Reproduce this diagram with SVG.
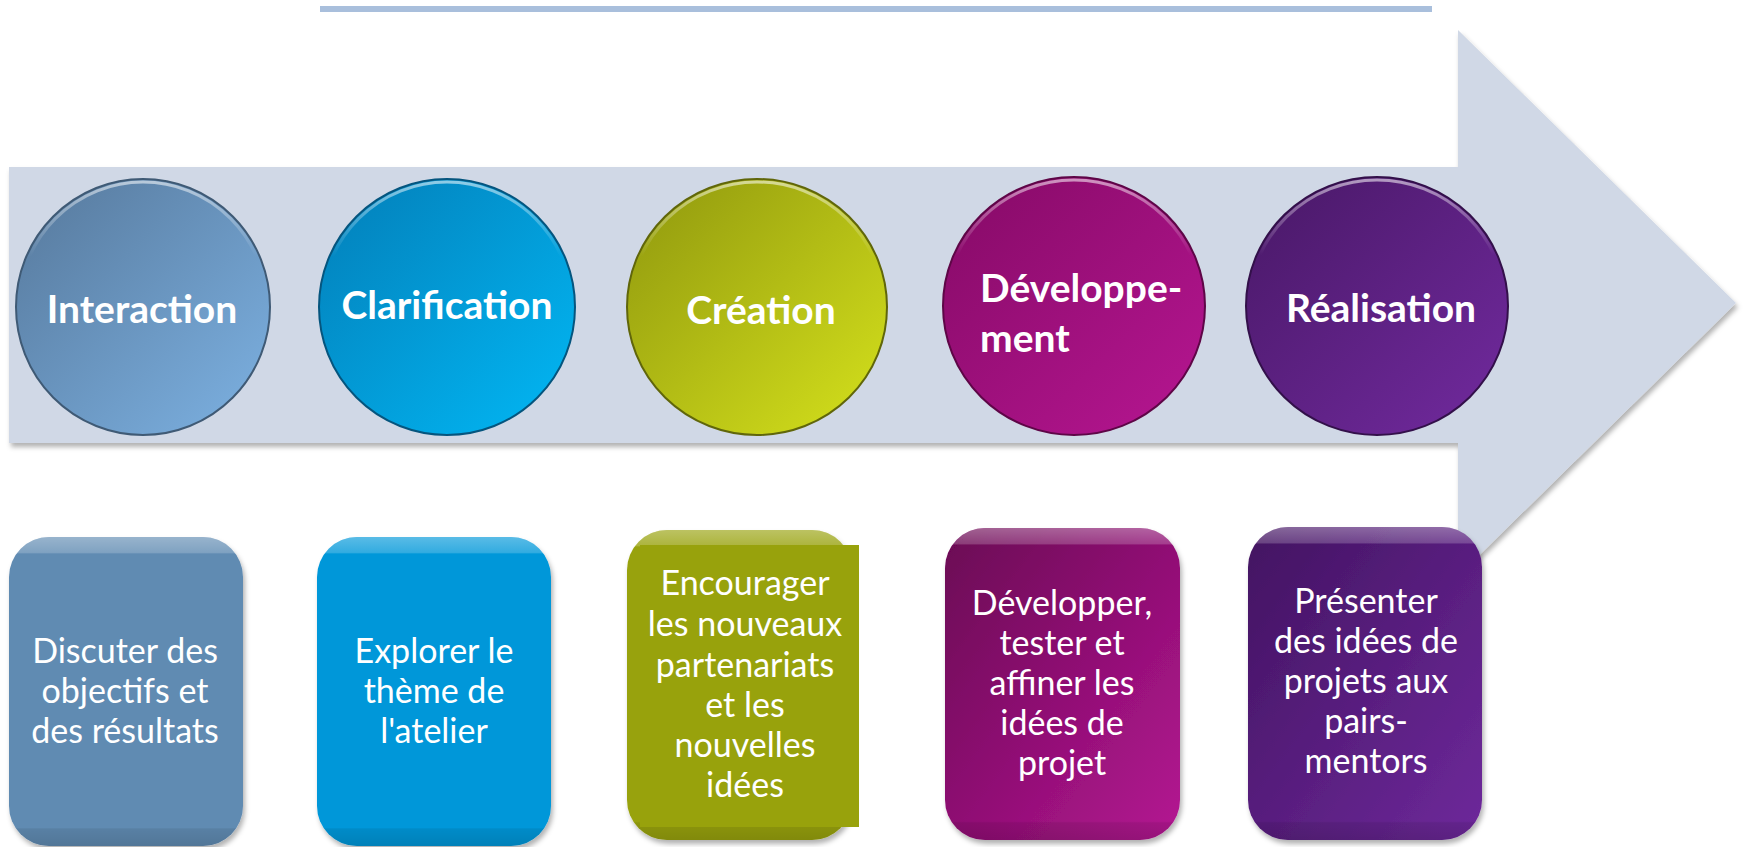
<svg xmlns="http://www.w3.org/2000/svg" width="1745" height="847" viewBox="0 0 1745 847">
<style>
.lbl{font-family:Lato,"Liberation Sans",sans-serif;font-weight:bold;font-size:39px;fill:#ffffff}
.txt{font-family:Lato,"Liberation Sans",sans-serif;font-size:34px;fill:#ffffff;text-anchor:middle}
.circ{stroke-width:2}
.hl{fill:none;stroke:url(#hlg);stroke-width:3}
.rim{fill:url(#rimg)}
</style>
<defs>
<linearGradient id="c1" x1="0" y1="0" x2="1" y2="1"><stop offset="0" stop-color="#56789b"/><stop offset="1" stop-color="#7db2e3"/></linearGradient>
<linearGradient id="c2" x1="0" y1="0" x2="1" y2="1"><stop offset="0" stop-color="#037eb8"/><stop offset="1" stop-color="#02b8f5"/></linearGradient>
<linearGradient id="c3" x1="0" y1="0" x2="1" y2="1"><stop offset="0" stop-color="#8f970e"/><stop offset="1" stop-color="#d6e21c"/></linearGradient>
<linearGradient id="c4" x1="0" y1="0" x2="1" y2="1"><stop offset="0" stop-color="#850a66"/><stop offset="1" stop-color="#b71692"/></linearGradient>
<linearGradient id="c5" x1="0" y1="0" x2="1" y2="1"><stop offset="0" stop-color="#481866"/><stop offset="1" stop-color="#722a9f"/></linearGradient>
<linearGradient id="b4" x1="0" y1="0" x2="1" y2="1"><stop offset="0" stop-color="#6a0654"/><stop offset="1" stop-color="#b41792"/></linearGradient>
<linearGradient id="b5" x1="0" y1="0" x2="1" y2="1"><stop offset="0" stop-color="#421361"/><stop offset="1" stop-color="#6e299b"/></linearGradient>
<linearGradient id="hlg" x1="0" y1="0" x2="0" y2="1"><stop offset="0" stop-color="#ffffff" stop-opacity="0.55"/><stop offset="0.3" stop-color="#ffffff" stop-opacity="0"/></linearGradient>
<linearGradient id="rimg" x1="0" y1="0" x2="0" y2="1"><stop offset="0" stop-color="#ffffff" stop-opacity="0.35"/><stop offset="0.05" stop-color="#ffffff" stop-opacity="0.2"/><stop offset="0.055" stop-color="#ffffff" stop-opacity="0"/><stop offset="0.94" stop-color="#000000" stop-opacity="0"/><stop offset="0.945" stop-color="#000000" stop-opacity="0.08"/><stop offset="1" stop-color="#000000" stop-opacity="0.15"/></linearGradient>
<filter id="sh" x="-5%" y="-5%" width="110%" height="115%"><feDropShadow dx="2" dy="4" stdDeviation="2.5" flood-color="#000000" flood-opacity="0.3"/></filter>
</defs>
<rect width="1745" height="847" fill="#ffffff"/>
<rect x="320" y="6" width="1112" height="6" fill="#a9bfdc"/>
<g id="arrow">
<path d="M9,167 L1458,167 L1458,30 L1736,303 L1458,576 L1458,443 L9,443 Z" fill="#d0d8e6" filter="url(#sh)"/>
</g>
<g id="connectors"></g>
<g id="n1">
<ellipse class="circ" cx="143" cy="307" rx="127" ry="128" fill="url(#c1)" stroke="#3f5a75"/>
<ellipse class="hl" cx="143" cy="307" rx="124" ry="125"/>
<text class="lbl" x="142" y="323" text-anchor="middle">Interaction</text>
</g>
<g id="n2">
<ellipse class="circ" cx="447" cy="307" rx="128" ry="128" fill="url(#c2)" stroke="#05557e"/>
<ellipse class="hl" cx="447" cy="307" rx="125" ry="125"/>
<text class="lbl" x="447" y="319" text-anchor="middle">Clarification</text>
</g>
<g id="n3">
<ellipse class="circ" cx="757" cy="307" rx="130" ry="128" fill="url(#c3)" stroke="#60660a"/>
<ellipse class="hl" cx="757" cy="307" rx="127" ry="125"/>
<text class="lbl" x="761" y="324" text-anchor="middle">Création</text>
</g>
<g id="n4">
<ellipse class="circ" cx="1074" cy="306" rx="131" ry="129" fill="url(#c4)" stroke="#5e0647"/>
<ellipse class="hl" cx="1074" cy="306" rx="128" ry="126"/>
<text class="lbl" x="980" y="302">Développe-</text>
<text class="lbl" x="980" y="352">ment</text>
</g>
<g id="n5">
<ellipse class="circ" cx="1377" cy="306" rx="131" ry="129" fill="url(#c5)" stroke="#33104a"/>
<ellipse class="hl" cx="1377" cy="306" rx="128" ry="126"/>
<text class="lbl" x="1381" y="322" text-anchor="middle">Réalisation</text>
</g>
<g id="d1">
<rect x="9" y="537" width="234" height="309" rx="40" fill="#618bb2" filter="url(#sh)"/>
<rect class="rim" x="9" y="537" width="234" height="309" rx="40"/>
<text class="txt" x="125" y="663">Discuter des</text>
<text class="txt" x="125" y="703">objectifs et</text>
<text class="txt" x="125" y="743">des résultats</text>
</g>
<g id="d2">
<rect x="317" y="537" width="234" height="309" rx="40" fill="#0097d9" filter="url(#sh)"/>
<rect class="rim" x="317" y="537" width="234" height="309" rx="40"/>
<text class="txt" x="434" y="663">Explorer le</text>
<text class="txt" x="434" y="703">thème de</text>
<text class="txt" x="434" y="743">l'atelier</text>
</g>
<g id="d3">
<rect x="627" y="530" width="225" height="310" rx="40" fill="#98a20c" filter="url(#sh)"/>
<rect class="rim" x="627" y="530" width="225" height="310" rx="40"/>
<rect x="640" y="545" width="219" height="282" fill="#98a20c"/>
<text class="txt" x="745" y="595">Encourager</text>
<text class="txt" x="745" y="636">les nouveaux</text>
<text class="txt" x="745" y="677">partenariats</text>
<text class="txt" x="745" y="717">et les</text>
<text class="txt" x="745" y="757">nouvelles</text>
<text class="txt" x="745" y="797">idées</text>
</g>
<g id="d4">
<rect x="945" y="528" width="235" height="312" rx="40" fill="url(#b4)" filter="url(#sh)"/>
<rect class="rim" x="945" y="528" width="235" height="312" rx="40"/>
<text class="txt" x="1062" y="615">Développer,</text>
<text class="txt" x="1062" y="655">tester et</text>
<text class="txt" x="1062" y="695">affiner les</text>
<text class="txt" x="1062" y="735">idées de</text>
<text class="txt" x="1062" y="775">projet</text>
</g>
<g id="d5">
<rect x="1248" y="527" width="234" height="313" rx="40" fill="url(#b5)" filter="url(#sh)"/>
<rect class="rim" x="1248" y="527" width="234" height="313" rx="40"/>
<text class="txt" x="1366" y="613">Présenter</text>
<text class="txt" x="1366" y="653">des idées de</text>
<text class="txt" x="1366" y="693">projets aux</text>
<text class="txt" x="1366" y="733">pairs-</text>
<text class="txt" x="1366" y="773">mentors</text>
</g>
</svg>
